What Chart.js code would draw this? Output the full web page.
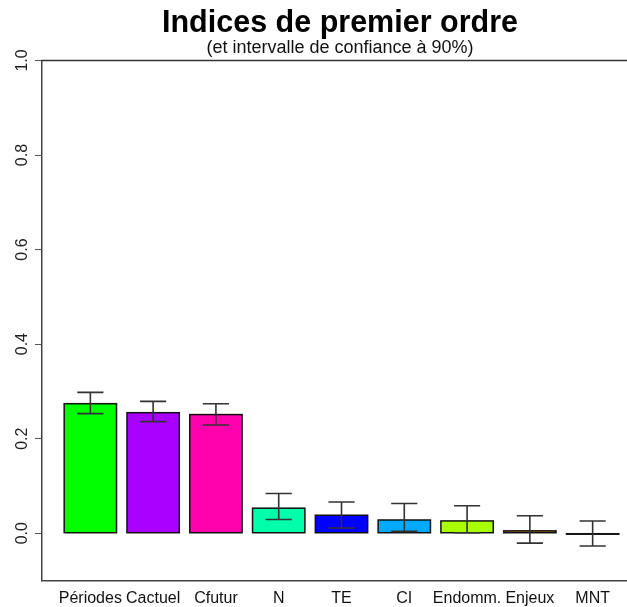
<!DOCTYPE html>
<html>
<head>
<meta charset="utf-8">
<script src="https://cdn.jsdelivr.net/npm/chart.js@4/dist/chart.umd.min.js"></script>
<style>
  html, body { margin: 0; padding: 0; background: #fff; overflow: hidden; }
  #wrap { width: 627px; height: 607px; overflow: hidden; }
  canvas { display: block; }
</style>
</head>
<body>
<div id="wrap"><canvas id="chart" width="680" height="607"></canvas></div>
<script>
const categories = ['Périodes', 'Cactuel', 'Cfutur', 'N', 'TE', 'CI', 'Endomm.', 'Enjeux', 'MNT'];
const indices = [0.274, 0.255, 0.251, 0.053, 0.038, 0.028, 0.026, 0.005, -0.002];
const lowerCI = [0.253, 0.236, 0.229, 0.029, 0.011, 0.004, 0.001, -0.021, -0.027];
const upperCI = [0.298, 0.279, 0.274, 0.084, 0.066, 0.063, 0.058, 0.037, 0.026];
const barColors = ['#00ff00', '#aa00ff', '#ff00aa', '#00ffaa', '#0000ff', '#00aaff', '#aaff00', '#cc8800', '#000000'];
const yTicks = [0, 0.2, 0.4, 0.6, 0.8, 1.0];

// same layout as R barplot: bar width 1, space 0.2, 4% axis extension
const SPACE = 0.2;
const barX = categories.map((c, i) => SPACE + 0.5 + i * (1 + SPACE));
const xSpan = categories.length * (1 + SPACE) - SPACE;
const xMin = SPACE - 0.04 * xSpan;
const xMax = categories.length * (1 + SPACE) + 0.04 * xSpan;

Chart.defaults.font.family = "'Liberation Sans', Arial, sans-serif";
Chart.defaults.color = '#111';

// outlines, error bars, top frame line and rotated y labels
const rPlot = {
    id: 'rPlot',
    afterDatasetsDraw(chart) {
        const ctx = chart.ctx;
        const yScale = chart.scales.y;
        const meta = chart.getDatasetMeta(0);
        ctx.save();
        meta.data.forEach((el, i) => {
            const p = el.getProps(['x', 'y', 'base', 'width'], true);
            ctx.strokeStyle = '#111';
            ctx.lineWidth = 1.5;
            ctx.strokeRect(p.x - p.width / 2, Math.min(p.y, p.base), p.width, Math.abs(p.base - p.y));

            const lo = yScale.getPixelForValue(lowerCI[i]);
            const hi = yScale.getPixelForValue(upperCI[i]);
            const cap = p.width / 4;
            ctx.strokeStyle = '#333';
            ctx.lineWidth = 1.6;
            ctx.beginPath();
            ctx.moveTo(p.x, lo); ctx.lineTo(p.x, hi);
            ctx.moveTo(p.x - cap, lo); ctx.lineTo(p.x + cap, lo);
            ctx.moveTo(p.x - cap, hi); ctx.lineTo(p.x + cap, hi);
            ctx.stroke();
        });
        ctx.restore();
    },
    afterDraw(chart) {
        const ctx = chart.ctx;
        const area = chart.chartArea;
        const yScale = chart.scales.y;
        ctx.save();
        ctx.strokeStyle = '#333';
        ctx.lineWidth = 1.5;
        ctx.beginPath();
        ctx.moveTo(area.left - 0.75, area.top);
        ctx.lineTo(area.right, area.top);
        ctx.stroke();

        ctx.fillStyle = '#222';
        ctx.font = "16px 'Liberation Sans', Arial, sans-serif";
        ctx.textAlign = 'center';
        ctx.textBaseline = 'alphabetic';
        yTicks.forEach(v => {
            ctx.save();
            ctx.translate(area.left - 15, yScale.getPixelForValue(v));
            ctx.rotate(-Math.PI / 2);
            ctx.fillText(v.toFixed(1), 0, 0);
            ctx.restore();
        });
        ctx.restore();
    }
};

new Chart(document.getElementById('chart'), {
    type: 'bar',
    data: {
        datasets: [{
            data: barX.map((x, i) => ({x: x, y: indices[i]})),
            backgroundColor: barColors,
            borderWidth: 0,
            inflateAmount: 0,
            categoryPercentage: 1,
            barPercentage: 1 / (1 + SPACE)
        }]
    },
    options: {
        responsive: false,
        animation: false,
        layout: {padding: 0},
        plugins: {
            legend: {display: false},
            tooltip: {enabled: false},
            title: {
                display: true,
                text: 'Indices de premier ordre',
                color: '#000',
                font: {size: 30.5, weight: 'bold', lineHeight: 1},
                padding: {top: 8.4, bottom: 0}
            },
            subtitle: {
                display: true,
                text: '(et intervalle de confiance à 90%)',
                color: '#111',
                font: {size: 18, lineHeight: 1},
                padding: {top: 0, bottom: 3.6}
            }
        },
        scales: {
            x: {
                type: 'linear',
                offset: false,
                min: xMin,
                max: xMax,
                afterBuildTicks: s => { s.ticks = barX.map(v => ({value: v})); },
                afterFit: s => { s.height = 26.5; },
                ticks: {
                    callback: (v, i) => categories[i],
                    autoSkip: false,
                    maxRotation: 0,
                    padding: 8,
                    color: '#111',
                    font: {size: 16}
                },
                grid: {drawOnChartArea: false, drawTicks: false, color: '#444'},
                border: {color: '#444', width: 1.5}
            },
            y: {
                min: -0.1,
                max: 1.0,
                afterBuildTicks: s => { s.ticks = yTicks.map(v => ({value: v})); },
                afterFit: s => { s.width = 42; },
                ticks: {display: false},
                grid: {drawOnChartArea: false, drawTicks: true, tickLength: 7, color: '#555', lineWidth: 1},
                border: {color: '#444', width: 1.5}
            },
            // empty right margin, the plot region runs past the picture edge
            yRight: {
                position: 'right',
                afterFit: s => { s.width = 39; },
                ticks: {display: false},
                grid: {display: false},
                border: {display: false}
            }
        }
    },
    plugins: [rPlot]
});
</script>
</body>
</html>
